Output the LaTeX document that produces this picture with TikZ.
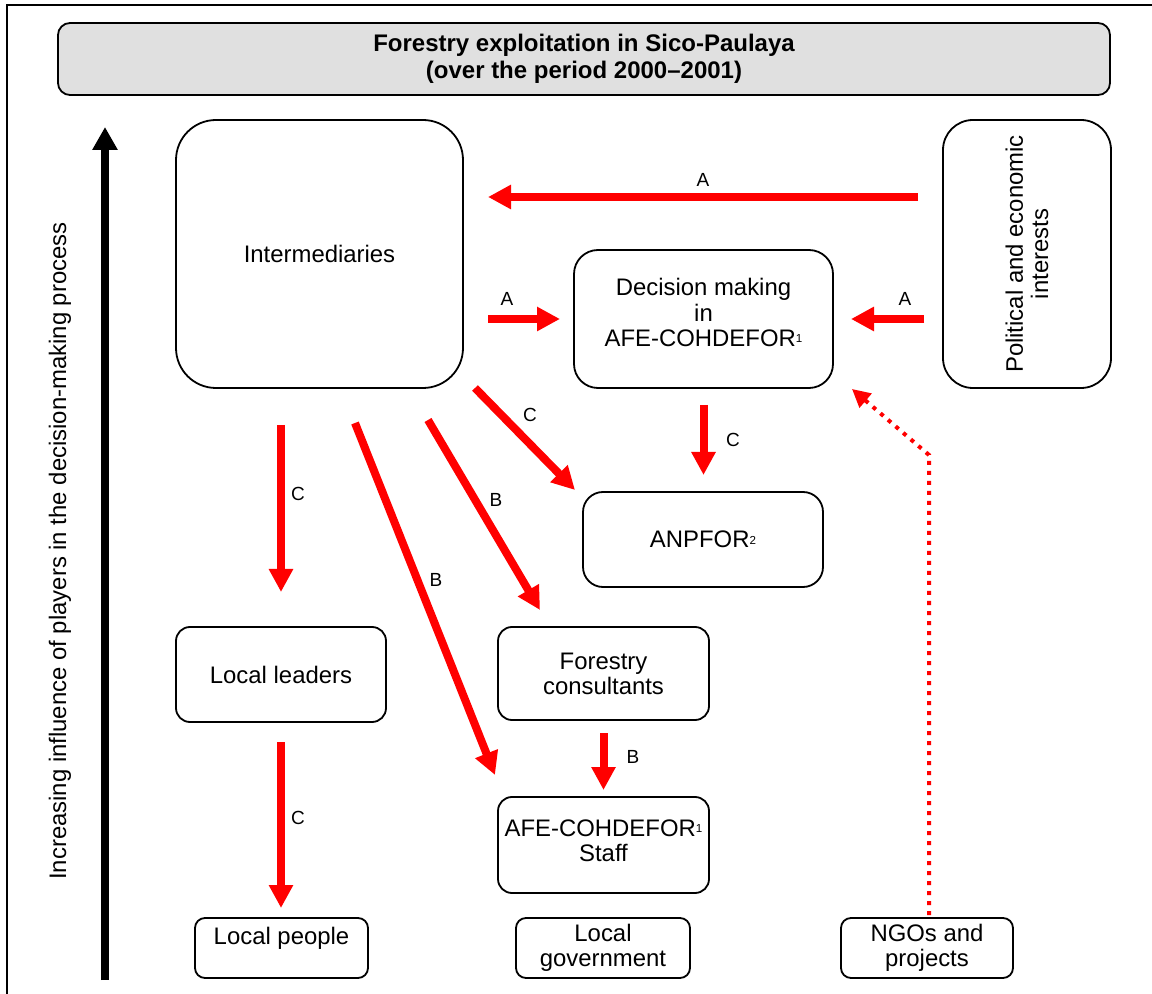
\documentclass[tikz,border=0pt]{standalone}
\usepackage{fontspec}
\setmainfont{Liberation Sans}
\usetikzlibrary{arrows.meta}
\definecolor{titlegray}{RGB}{224,224,224}
\newcommand\bodysize{\fontsize{11.95}{12.6}\selectfont}
\newcommand\smallsup[1]{\raisebox{1.8pt}{\fontsize{5.8}{6}\selectfont #1}}
\tikzset{
  box/.style={draw, line width=0.9pt, align=center, outer sep=0pt, inner sep=0pt, font=\bodysize},
  lab/.style={font=\fontsize{9.5}{10}\selectfont, inner sep=0pt},
  redarrow/.style={draw=red, line width=4pt, -{Triangle[length=11.5pt,width=11.5pt]}},
  dotarrow/.style={draw=red, line width=2pt, dash pattern=on 2pt off 3pt, -{Triangle[length=9pt,width=9pt]}},
}
\begin{document}
\begin{tikzpicture}[x=0.5pt, y=-0.5pt]
\useasboundingbox (0,0) rectangle (1152,994);
\draw[line width=1pt] (7,5) rectangle (1220,1060);

\node[box, fill=titlegray, rounded corners=6pt, minimum width=526pt, minimum height=36pt,
  font=\bfseries\fontsize{12}{13.5}\selectfont] (title) at (584,59)
  {Forestry exploitation in Sico-Paulaya\\(over the period 2000--2001)};

% upward axis
\coordinate (axbot) at (105,980);
\coordinate (axtop) at (105,127);
\draw[line width=3.8pt, -{Triangle[length=11.5pt,width=12pt]}] (axbot) -- (axtop);
\node[rotate=90, font=\bodysize] (axislabel) at (60,551)
  {Increasing influence of players in the decision-making process};

\node[box, rounded corners=20pt, minimum width=143.5pt, minimum height=134pt] (interm) at (319.5,254) {Intermediaries};
\node[box, rotate=90, rounded corners=15pt, minimum width=134pt, minimum height=84pt] (polint) at (1027,254)
  {Political and economic\\interests};
\node[box, rounded corners=12pt, minimum width=129.5pt, minimum height=69pt] (decision) at (703.5,319)
  {Decision making\\in\\AFE-COHDEFOR\smallsup{1}\\[-6pt]\mbox{}};
\node[box, rounded corners=10pt, minimum width=120pt, minimum height=47.5pt] (anpfor) at (703,539.5) {ANPFOR\smallsup{2}};
\node[box, rounded corners=7pt, minimum width=105pt, minimum height=47.5pt] (leaders) at (281,674.5) {Local leaders};
\node[box, rounded corners=7pt, minimum width=105.5pt, minimum height=46.5pt] (consult) at (603.5,673.5) {Forestry\\consultants};
\node[box, rounded corners=7pt, minimum width=105.5pt, minimum height=48pt] (staff) at (603.5,845)
  {AFE-COHDEFOR\smallsup{1}\\Staff\\[-8pt]\mbox{}};
\node[box, rounded corners=5pt, minimum width=86.5pt, minimum height=30pt] (people) at (281.5,948) {Local people\\\mbox{}};
\node[box, rounded corners=5pt, minimum width=87pt, minimum height=30pt] (localgov) at (603,948) {Local\\government};
\node[box, rounded corners=5pt, minimum width=86pt, minimum height=30pt] (ngos) at (927,948) {NGOs and\\projects};

% A arrows
\coordinate (atop) at (0,197);
\draw[redarrow, shorten <=12.5pt, shorten >=12.5pt] (polint.north |- atop) -- (interm.east |- atop);
\draw[redarrow, shorten <=12.5pt, shorten >=7pt] (interm.east |- decision.west) -- (decision.west);
\draw[redarrow, shorten <=9.5pt, shorten >=9pt] (polint.north |- decision.east) -- (decision.east);
\node[lab] (la1) at (703,180) {A};
\node[lab] (la2) at (507,299) {A};
\node[lab] (la3) at (905,299) {A};

% C arrows
\coordinate (intc) at (475,388);
\coordinate (anpc) at (575,490);
\draw[redarrow, shorten <=8.5pt, shorten >=8.5pt] (decision.south) -- (decision.south |- anpfor.north);
\draw[redarrow] (intc) -- (anpc);
\draw[redarrow, shorten <=18.5pt, shorten >=17.5pt] (leaders.north |- interm.south) -- (leaders.north);
\draw[redarrow, shorten <=10pt, shorten >=5pt] (leaders.south) -- (leaders.south |- people.north);
\node[lab] (lc1) at (733,440) {C};
\node[lab] (lc2) at (530,415) {C};
\node[lab] (lc3) at (298,494) {C};
\node[lab] (lc4) at (298,818) {C};

% B arrows
\coordinate (intb1) at (428,420);
\coordinate (conb) at (540,610);
\coordinate (intb2) at (355,423);
\coordinate (stab) at (495,775);
\draw[redarrow] (intb1) -- (conb);
\draw[redarrow] (intb2) -- (stab);
\draw[redarrow, shorten <=6.5pt, shorten >=3.5pt] (consult.south) -- (staff.north);
\node[lab] (lb1) at (496,500) {B};
\node[lab] (lb2) at (436,580) {B};
\node[lab] (lb3) at (633,757) {B};

% NGOs
\coordinate (bend) at (929,455);
\coordinate (ngotip) at (852,389);
\draw[dotarrow, shorten <=1.5pt] (ngos.north -| bend) -- (bend) -- (ngotip);
\end{tikzpicture}
\end{document}
